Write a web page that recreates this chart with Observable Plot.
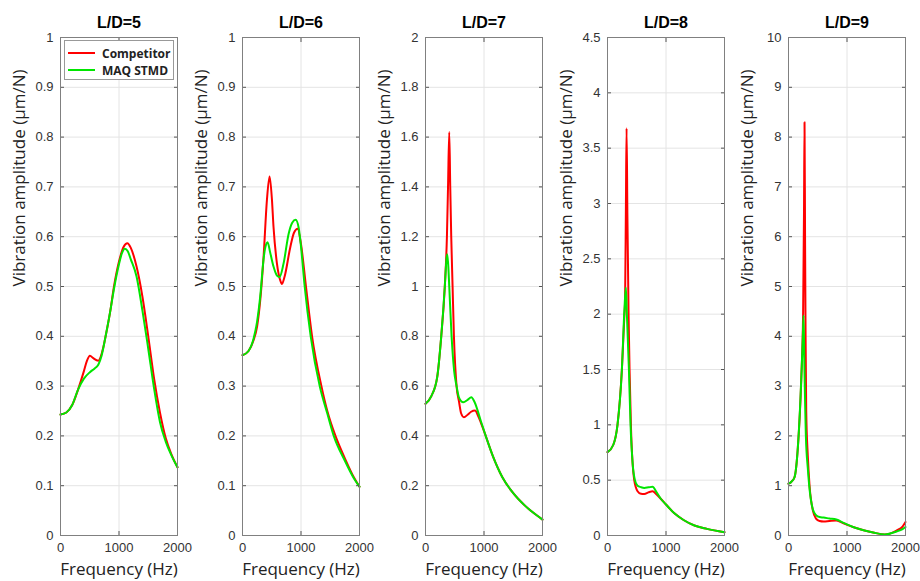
<!DOCTYPE html>
<html>
<head>
<meta charset="utf-8">
<script src="https://cdn.jsdelivr.net/npm/d3@7"></script>
<script src="https://cdn.jsdelivr.net/npm/@observablehq/plot@0.6"></script>
<style>
  html, body { margin: 0; padding: 0; background: #fff; }
  #wrap { position: relative; width: 920px; height: 581px; overflow: hidden; }
  .panel { position: absolute; top: 0; }
  #legend { position: absolute; left: 64px; top: 40px; width: 110px; height: 40px; border: 1px solid #999; background: #fff;
            font-family: "Open Sans", "Noto Sans", sans-serif; font-weight: bold; font-size: 12px; color: #222; box-sizing: border-box; }
  #legend .row { position: absolute; left: 0; display: flex; align-items: center; height: 16px; }
  #legend .sw { width: 27px; height: 2px; margin-left: 3px; margin-right: 7px; }
</style>
</head>
<body>
<div id="wrap"></div>
<script>
// ---------- data ----------
const seriesNames = ["Competitor", "MAQ STMD"];
const seriesColors = ["#ff0000", "#00e600"];
const titles = ["L/D=5", "L/D=6", "L/D=7", "L/D=8", "L/D=9"];
const yMax = [1, 1, 2, 4.5, 10];
const xTicks = [0, 1000, 2000];
const yTicks5 = [0, 0.1, 0.2, 0.3, 0.4, 0.5, 0.6, 0.7, 0.8, 0.9, 1];
const yTicks6 = [0, 0.1, 0.2, 0.3, 0.4, 0.5, 0.6, 0.7, 0.8, 0.9, 1];
const yTicks7 = [0, 0.2, 0.4, 0.6, 0.8, 1, 1.2, 1.4, 1.6, 1.8, 2];
const yTicks8 = [0, 0.5, 1, 1.5, 2, 2.5, 3, 3.5, 4, 4.5];
const yTicks9 = [0, 1, 2, 3, 4, 5, 6, 7, 8, 9, 10];
const xLabel = "Frequency (Hz)";
const yLabel = "Vibration amplitude (\u03bcm/N)";

// L/D=5
const ld5CompFreq = [0,100,200,300,400,450,503,560,646,690,730,771,850,914,1000,1080,1143,1200,1300,1400,1500,1600,1700,1800,1900,2000];
const ld5CompAmp  = [0.243,0.247,0.262,0.293,0.33,0.35,0.361,0.356,0.351,0.36,0.377,0.4,0.45,0.5,0.55,0.58,0.587,0.578,0.54,0.48,0.40,0.315,0.247,0.195,0.162,0.137];
const ld5MaqFreq  = [0,100,200,300,400,503,580,646,700,771,850,914,1000,1050,1100,1150,1200,1300,1400,1500,1600,1700,1800,1900,2000];
const ld5MaqAmp   = [0.243,0.247,0.262,0.293,0.315,0.328,0.335,0.343,0.36,0.4,0.45,0.495,0.545,0.567,0.576,0.571,0.555,0.52,0.452,0.375,0.295,0.228,0.188,0.16,0.137];

// L/D=6
const ld6CompFreq = [0,100,189,250,303,360,417,463,503,530,589,646,674,720,817,880,943,1000,1085,1189,1349,1450,1589,1750,1903,2000];
const ld6CompAmp  = [0.362,0.37,0.392,0.42,0.472,0.559,0.673,0.721,0.675,0.62,0.546,0.512,0.505,0.52,0.579,0.608,0.616,0.585,0.5,0.4,0.3,0.25,0.2,0.155,0.117,0.098];
const ld6MaqFreq  = [0,100,189,250,303,360,389,429,470,530,589,634,700,789,850,909,960,1000,1063,1166,1320,1450,1560,1750,1903,2000];
const ld6MaqAmp   = [0.362,0.37,0.395,0.43,0.48,0.555,0.578,0.589,0.57,0.54,0.522,0.519,0.545,0.606,0.628,0.634,0.618,0.58,0.5,0.4,0.3,0.245,0.2,0.15,0.115,0.098];

// L/D=7
const ld7CompFreq = [0,100,200,269,330,366,385,406,423,440,463,486,531,571,610,657,720,780,846,900,943,1029,1150,1314,1500,1700,1850,2000];
const ld7CompAmp  = [0.529,0.56,0.636,0.8,1.0,1.2,1.4,1.62,1.4,1.2,1.0,0.8,0.6,0.54,0.49,0.475,0.485,0.497,0.502,0.48,0.455,0.4,0.32,0.234,0.17,0.12,0.09,0.064];
const ld7MaqFreq  = [0,100,200,269,330,355,371,390,406,446,490,531,571,646,720,783,840,943,1029,1150,1314,1500,1700,1850,2000];
const ld7MaqAmp   = [0.529,0.56,0.636,0.8,1.0,1.1,1.13,1.08,1.0,0.8,0.66,0.6,0.555,0.535,0.545,0.555,0.535,0.462,0.4,0.32,0.234,0.17,0.12,0.09,0.064];

// L/D=8
const ld8CompFreq = [0,100,171,246,290,300,315,326,340,360,377,400,457,514,571,629,700,771,840,914,1000,1143,1300,1486,1700,2000];
const ld8CompAmp  = [0.753,0.82,1.0,1.5,2.0,2.1,3.0,3.68,2.9,2.0,1.5,1.0,0.5,0.4,0.377,0.375,0.39,0.40,0.37,0.33,0.28,0.2,0.14,0.09,0.06,0.03];
const ld8MaqFreq  = [0,100,171,246,290,314,331,366,394,430,469,514,571,629,700,771,840,914,1000,1143,1300,1486,1700,2000];
const ld8MaqAmp   = [0.753,0.82,1.0,1.5,2.05,2.24,2.0,1.5,1.0,0.65,0.5,0.45,0.437,0.43,0.435,0.44,0.39,0.33,0.28,0.2,0.14,0.09,0.06,0.03];

// L/D=9
const ld9CompFreq = [0,50,103,160,217,250,265,274,283,292,303,330,360,417,470,531,600,700,817,950,1103,1300,1446,1646,1846,1950,2000];
const ld9CompAmp  = [1.04,1.08,1.17,1.77,3.1,4.5,6.5,8.3,6.0,4.0,2.5,1.6,1.0,0.5,0.34,0.29,0.28,0.29,0.30,0.24,0.17,0.1,0.06,0.02,0.1,0.18,0.27];
const ld9MaqFreq  = [0,50,103,160,217,245,257,270,285,297,330,354,417,470,531,600,700,817,950,1103,1300,1446,1646,1846,1950,2000];
const ld9MaqAmp   = [1.04,1.08,1.17,1.77,3.1,4.0,4.42,3.5,2.6,2.0,1.35,1.0,0.52,0.41,0.37,0.36,0.34,0.32,0.25,0.17,0.1,0.06,0.02,0.08,0.13,0.17];

// ---------- assemble ----------
const panels = [
  {yTicks: yTicks5, comp: [ld5CompFreq, ld5CompAmp], maq: [ld5MaqFreq, ld5MaqAmp]},
  {yTicks: yTicks6, comp: [ld6CompFreq, ld6CompAmp], maq: [ld6MaqFreq, ld6MaqAmp]},
  {yTicks: yTicks7, comp: [ld7CompFreq, ld7CompAmp], maq: [ld7MaqFreq, ld7MaqAmp]},
  {yTicks: yTicks8, comp: [ld8CompFreq, ld8CompAmp], maq: [ld8MaqFreq, ld8MaqAmp]},
  {yTicks: yTicks9, comp: [ld9CompFreq, ld9CompAmp], maq: [ld9MaqFreq, ld9MaqAmp]}
];
const panelLeft = [0, 182, 365, 547, 728];

const wrap = document.getElementById("wrap");
const tickFont = "'Liberation Sans', Arial, sans-serif";
const labelFont = "'Open Sans', 'Noto Sans', sans-serif";

panels.forEach((p, i) => {
  const toRows = ([fs, as], s) => fs.map((f, j) => ({f, a: as[j], s}));
  const comp = toRows(p.comp, seriesNames[0]);
  const maq = toRows(p.maq, seriesNames[1]);
  const chart = Plot.plot({
    width: 182, height: 581,
    marginLeft: 60, marginRight: 5, marginTop: 37, marginBottom: 46,
    style: {fontFamily: tickFont, fontSize: "13px", color: "#333", background: "transparent", overflow: "visible"},
    x: {domain: [0, 2000]},
    y: {domain: [0, yMax[i]]},
    marks: [
      Plot.gridX(xTicks, {stroke: "#e4e4e4", strokeOpacity: 1}),
      Plot.gridY(p.yTicks, {stroke: "#e4e4e4", strokeOpacity: 1}),
      Plot.line(comp, {x: "f", y: "a", stroke: seriesColors[0], strokeWidth: 2, curve: "monotone-x"}),
      Plot.line(maq, {x: "f", y: "a", stroke: seriesColors[1], strokeWidth: 2, curve: "monotone-x"}),
      Plot.axisX(xTicks, {anchor: "bottom", tickSize: -4, tickPadding: 11, tickFormat: d => String(d), label: null, stroke: "#555", fill: "#333"}),
      Plot.axisX(xTicks, {anchor: "top", tickSize: -4, tickFormat: () => "", label: null, stroke: "#555"}),
      Plot.axisY(p.yTicks, {anchor: "left", tickSize: -4, tickPadding: 11, tickFormat: d => String(d), label: null, stroke: "#555", fill: "#333"}),
      Plot.axisY(p.yTicks, {anchor: "right", tickSize: -4, tickFormat: () => "", label: null, stroke: "#555"}),
      Plot.frame({stroke: "#808080"}),
      Plot.text([titles[i]], {text: d => d, frameAnchor: "top", lineAnchor: "middle", dy: -15, fontWeight: "bold", fontSize: 16, fill: "#000", fontFamily: tickFont}),
      Plot.text([xLabel], {text: d => d, frameAnchor: "bottom", lineAnchor: "middle", dy: 34, fontSize: 17, fill: "#222", fontFamily: labelFont}),
      Plot.text([yLabel], {text: d => d, frameAnchor: "left", dx: -41, rotate: -90, fontSize: 17, fill: "#222", fontFamily: labelFont})
    ]
  });
  chart.classList.add("panel");
  chart.style.left = panelLeft[i] + "px";
  wrap.appendChild(chart);
});

// legend (inside first panel)
const legend = document.createElement("div");
legend.id = "legend";
seriesNames.forEach((name, k) => {
  const row = document.createElement("div");
  row.className = "row";
  row.style.top = (4 + k * 17) + "px";
  const sw = document.createElement("span");
  sw.className = "sw";
  sw.style.background = seriesColors[k];
  const lab = document.createElement("span");
  lab.textContent = name;
  row.appendChild(sw);
  row.appendChild(lab);
  legend.appendChild(row);
});
wrap.appendChild(legend);
</script>
</body>
</html>
